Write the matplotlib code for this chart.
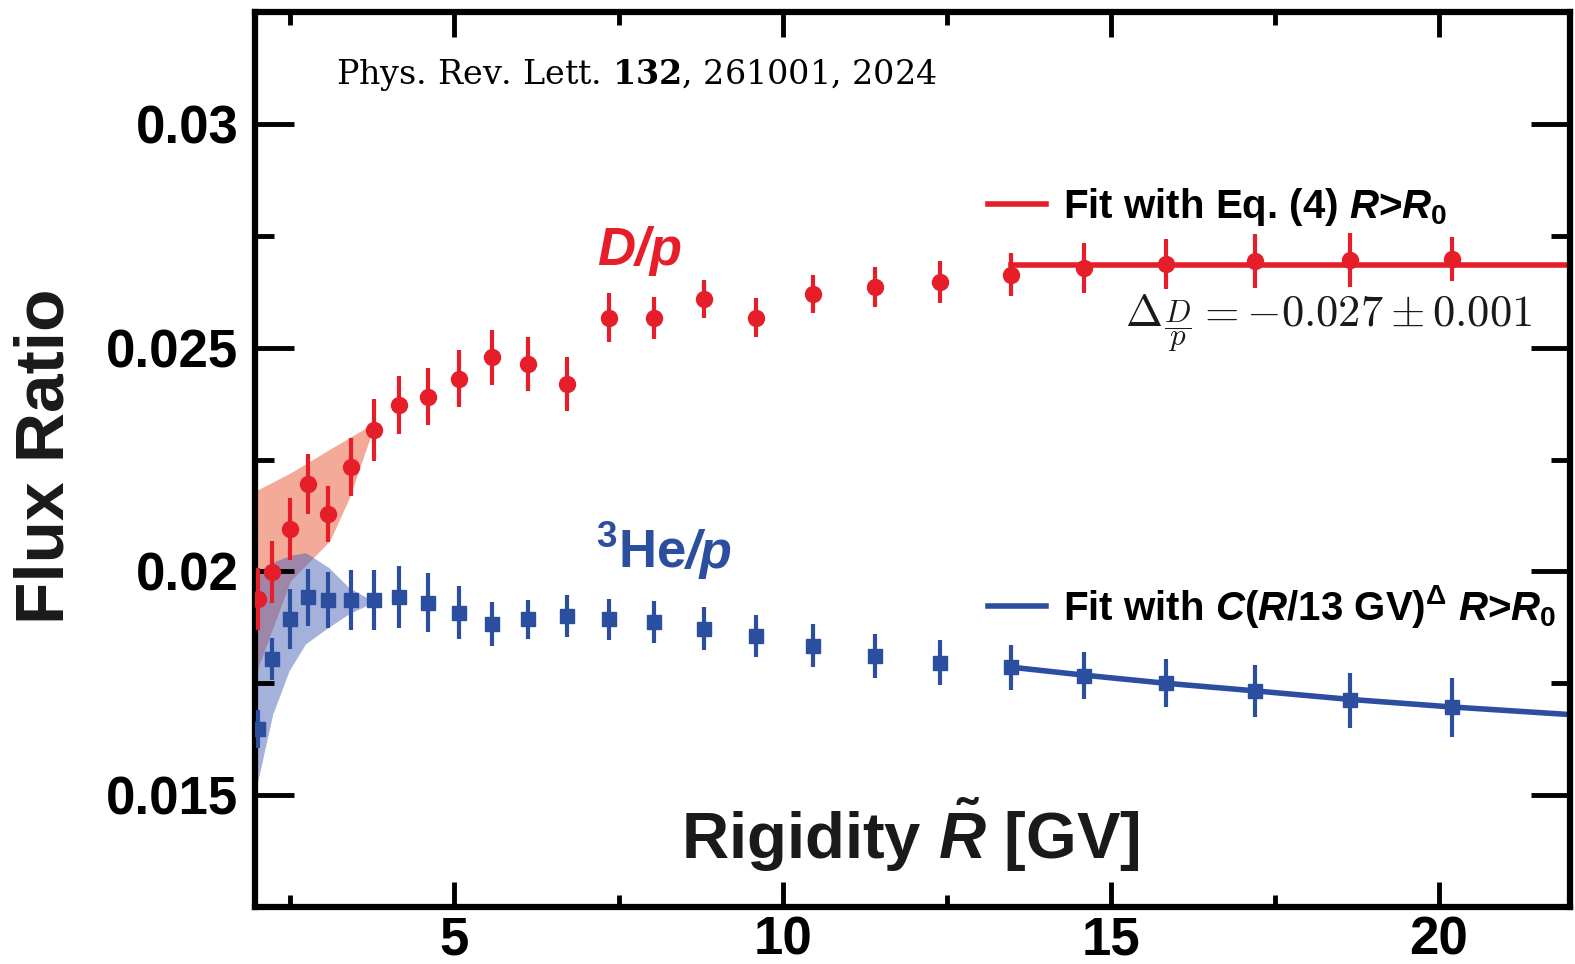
import matplotlib
matplotlib.use("Agg")
import matplotlib.pyplot as plt
from matplotlib.ticker import MultipleLocator

plt.rcParams['font.family'] = ['Liberation Sans', 'DejaVu Sans']
plt.rcParams['font.weight'] = 'bold'
plt.rcParams['mathtext.fontset'] = 'custom'
plt.rcParams['mathtext.rm'] = 'Liberation Sans:bold'
plt.rcParams['mathtext.bf'] = 'Liberation Sans:bold'
plt.rcParams['mathtext.sf'] = 'Liberation Sans:bold'
plt.rcParams['mathtext.it'] = 'Liberation Sans:italic:bold'

# rigidity bins (GV)
rigidity = [2.0, 2.22, 2.49, 2.77, 3.08, 3.43, 3.78, 4.16, 4.60, 5.07, 5.57, 6.12, 6.71,
            7.36, 8.04, 8.81, 9.59, 10.46, 11.41, 12.40, 13.48, 14.60, 15.84, 17.20, 18.64, 20.20]

# D/p flux ratio
dp = [0.01938, 0.01998, 0.02095, 0.02195, 0.02128, 0.02234, 0.02316, 0.02372, 0.02390, 0.02431,
      0.02478, 0.02463, 0.02419, 0.02567, 0.02567, 0.02609, 0.02567, 0.02620, 0.02635, 0.02646,
      0.02663, 0.02677, 0.02687, 0.02693, 0.02696, 0.02698]
dp_err = [0.00070, 0.00069, 0.00070, 0.00067, 0.00063, 0.00065, 0.00069, 0.00065, 0.00064, 0.00064,
          0.00061, 0.00061, 0.00060, 0.00055, 0.00047, 0.00042, 0.00044, 0.00042, 0.00045, 0.00047,
          0.00048, 0.00056, 0.00056, 0.00060, 0.00060, 0.00050]

# 3He/p flux ratio
he = [0.01648, 0.01804, 0.01893, 0.01942, 0.01936, 0.01936, 0.01936, 0.01943, 0.01930, 0.01908,
      0.01882, 0.01893, 0.01901, 0.01893, 0.01887, 0.01872, 0.01856, 0.01834, 0.01811, 0.01796,
      0.01786, 0.01767, 0.01750, 0.01733, 0.01712, 0.01696]
he_err = [0.00043, 0.00047, 0.00067, 0.00063, 0.00063, 0.00067, 0.00068, 0.00070, 0.00066, 0.00060,
          0.00049, 0.00044, 0.00047, 0.00046, 0.00046, 0.00048, 0.00047, 0.00048, 0.00050, 0.00051,
          0.00050, 0.00052, 0.00054, 0.00058, 0.00061, 0.00065]

# low rigidity bands
dp_band_x = [1.97, 2.50, 3.10, 3.40, 3.75]
dp_band_lo = [0.01771, 0.01979, 0.02068, 0.02165, 0.02314]
dp_band_hi = [0.02180, 0.02220, 0.02273, 0.02299, 0.02329]

he_band_x = [1.97, 2.23, 2.48, 2.73, 3.08, 3.39, 3.75]
he_band_lo = [0.01510, 0.01681, 0.01778, 0.01838, 0.01875, 0.01905, 0.01930]
he_band_hi = [0.01986, 0.02020, 0.02035, 0.02042, 0.02009, 0.01964, 0.01934]

# fits above R0
dp_fit_x = [13.48, 22.0]
dp_fit_y = [0.02685, 0.02685]
he_fit_x = [13.48, 14.60, 15.84, 17.20, 18.64, 20.20, 22.0]
he_fit_y = [0.01786, 0.01768, 0.01750, 0.01733, 0.01714, 0.01697, 0.01680]

ytick_vals = [0.015, 0.02, 0.025, 0.03]
ytick_labels = ['0.015', '0.02', '0.025', '0.03']
xtick_vals = [5, 10, 15, 20]

red = '#e61e2a'
blue = '#2b4f9e'

fig = plt.figure(figsize=(15.75, 9.64), dpi=100)
ax = fig.add_axes([255/1575, 1 - 907/964, (1570 - 255)/1575, (907 - 12)/964])

ax.fill_between(dp_band_x, dp_band_lo, dp_band_hi, color='#ec6446', alpha=0.55, lw=0, zorder=1)
ax.fill_between(he_band_x, he_band_lo, he_band_hi, color='#4a64b8', alpha=0.5, lw=0, zorder=1)

red_fit, = ax.plot(dp_fit_x, dp_fit_y, color=red, lw=4, zorder=2)
blue_fit, = ax.plot(he_fit_x, he_fit_y, color=blue, lw=4, zorder=2)

ax.errorbar(rigidity, dp, yerr=dp_err, fmt='o', color=red, ms=11.5, elinewidth=3, capsize=0, zorder=3)
ax.errorbar(rigidity, he, yerr=he_err, fmt='s', color=blue, ms=10, elinewidth=3, capsize=0, zorder=3)

ax.set_xlim(1.96, 22.0)
ax.set_ylim(0.0125, 0.0325)
ax.set_xticks(xtick_vals)
ax.set_yticks(ytick_vals)
ax.set_yticklabels(ytick_labels)
ax.xaxis.set_minor_locator(MultipleLocator(2.5))
ax.yaxis.set_minor_locator(MultipleLocator(0.0025))
ax.tick_params(axis='both', which='both', direction='in', top=True, right=True, width=3.5, colors='black')
ax.tick_params(axis='x', which='major', length=18, labelsize=38, pad=6)
ax.tick_params(axis='x', which='minor', length=9)
ax.tick_params(axis='y', which='major', length=28, labelsize=38, pad=12)
ax.tick_params(axis='y', which='minor', length=14)
for s in ax.spines.values():
    s.set_linewidth(4.5)

fig.text(46/1575, 1 - 456/964, 'Flux Ratio', rotation=90, ha='center', va='center',
         fontsize=50, fontweight='bold', color='#1a1a1a')
fig.text(910/1575, 1 - 859/964, r'Rigidity $\tilde{R}$ [GV]', ha='center', va='baseline',
         fontsize=47, fontweight='bold', color='#1a1a1a')

# series labels
fig.text(640/1575, 1 - 251/964, 'D/p', ha='center', va='center', fontsize=38,
         fontstyle='italic', fontweight='bold', color=red)
he_lab = fig.text(596/1575, 1 - 568/964, r'$^{3}$He', ha='left', va='baseline',
                  fontsize=38, color=blue)
fig.add_artist(plt.Annotation('/p', xy=(1, 0), xycoords=he_lab, ha='left', va='bottom',
                              fontsize=38, fontstyle='italic', fontweight='bold', color=blue))

fig.text(1125/1575, 1 - 326/964, r'$\Delta_{\dfrac{D}{p}} = -0.027 \pm 0.001$', ha='left', va='baseline',
         fontsize=32, color='#1a1a1a', math_fontfamily='cm')

fig.text(336/1575, 1 - 84/964, r'Phys. Rev. Lett. $\mathbf{132}$, 261001, 2024', ha='left', va='baseline',
         fontsize=24, fontweight='normal', family='DejaVu Serif', math_fontfamily='dejavuserif', color='black')

leg1 = ax.legend(handles=[red_fit], labels=[r'Fit with Eq. (4) $R$>$R_0$'], loc='center left',
                 bbox_to_anchor=(988/1575, 1 - 207/964), bbox_transform=fig.transFigure,
                 frameon=False, fontsize=29, handlelength=1.45, handletextpad=0.4,
                 borderpad=0, borderaxespad=0)
ax.add_artist(leg1)
ax.legend(handles=[blue_fit], labels=[r'Fit with $C$($R$/13 GV)$^{\Delta}$ $R$>$R_0$'], loc='center left',
          bbox_to_anchor=(988/1575, 1 - 607/964), bbox_transform=fig.transFigure,
          frameon=False, fontsize=29, handlelength=1.45, handletextpad=0.4,
          borderpad=0, borderaxespad=0)

fig.savefig('out.png', dpi=100)
